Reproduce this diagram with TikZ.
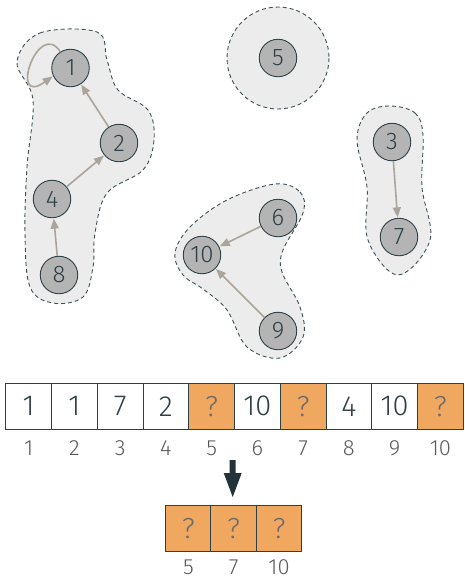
\documentclass[tikz,border=0pt]{standalone}
\usepackage{fontspec}
\setmainfont{Fira Sans Light}
\usetikzlibrary{arrows.meta,calc}
\definecolor{hullfill}{HTML}{ECECEC}
\definecolor{hulldraw}{HTML}{3D5056}
\definecolor{vfill}{HTML}{B4B4B4}
\definecolor{vdraw}{HTML}{2E3F45}
\definecolor{edgec}{HTML}{ABA49B}
\definecolor{orangec}{HTML}{F0A860}
\definecolor{qc}{HTML}{6B6B6B}
\definecolor{idxc}{HTML}{5A5A5A}
\definecolor{arrc}{HTML}{22343A}
\tikzset{
  hull/.style={fill=hullfill, draw=hulldraw, line width=0.9pt, dash pattern=on 4pt off 3pt},
  vert/.style={circle, minimum size=37.5pt, inner sep=0pt, fill=vfill, draw=vdraw, line width=0.9pt, text=vdraw, font=\fontsize{24}{24}\selectfont},
  edge/.style={draw=edgec, line width=1.6pt, -{Triangle[length=10pt,width=8pt]}, shorten >=0.5pt},
  cell/.style={rectangle, minimum width=45.75pt, minimum height=46pt, inner sep=0pt, draw=vdraw, line width=1pt, fill=white, text=vdraw, font=\fontsize{29}{29}\selectfont},
  qcell/.style={cell, fill=orangec, text=qc},
  idx/.style={text=idxc, font=\fontsize{22}{22}\selectfont, inner sep=0pt}
}
\begin{document}
\begin{tikzpicture}[x=1pt,y=-1pt]
\useasboundingbox (0,0) rectangle (464,579);
% hulls
\draw[hull] plot[smooth cycle, tension=0.6] coordinates {(17,62) (40,33) (97,32) (107,60) (118,90) (148,110) (154,140) (143,170) (107,193) (95,233) (93,267) (83,297) (53,303) (30,287) (25,233) (27,167) (33,100)};
\draw[hull] (278,58) circle[radius=51];
\draw[hull] plot[smooth cycle, tension=0.6] coordinates {(390,106) (415,113) (423,135) (422,187) (430,240) (398,275) (368,240) (367,187) (357,140) (367,113)};
\draw[hull] plot[smooth cycle, tension=0.6] coordinates {(275,184) (300,192) (303,213) (283,250) (282,272) (300,307) (303,337) (280,358) (247,347) (227,310) (203,289) (183,275) (175,253) (190,227) (227,200)};
% vertices
\node[vert] (n1) at (70.5,68) {1};
\node[vert] (n2) at (119,143) {2};
\node[vert] (n4) at (52,199) {4};
\node[vert] (n8) at (59,275) {8};
\node[vert] (n5) at (278,58) {5};
\node[vert] (n3) at (392,142) {3};
\node[vert] (n7) at (399,237) {7};
\node[vert] (n6) at (278,218) {6};
\node[vert] (n10) at (202,255) {10};
\node[vert] (n9) at (278,331) {9};
% edges
\draw[edge] (n2) -- (n1);
\draw[edge] (n4) -- (n2);
\draw[edge] (n8) -- (n4);
\draw[edge] (n3) -- (n7);
\draw[edge] (n6) -- (n10);
\draw[edge] (n9) -- (n10);
\draw[edge] (n1.122) .. controls (38,18) and (8,108) .. (n1.205);
% top array
\foreach \i/\v/\s in {1/1/cell,2/1/cell,3/7/cell,4/2/cell,5/?/qcell,6/10/cell,7/?/qcell,8/4/cell,9/10/cell,10/?/qcell}{
  \node[\s] (c\i) at ({5.75+45.75*(\i-0.5)},406.3) {\v};
  \node[idx] (i\i) at ({5.75+45.75*(\i-0.5)},448) {\i};
}
% arrow
\coordinate (a0) at (232.7,460);
\coordinate (a1) at (232.7,497);
\fill[arrc] ($(a0)+(-3,0)$) -- ($(a0)+(3,0)$) -- ($(a0)+(3,13)$) -- ($(a0)+(9,13)$) -- (a1) -- ($(a0)+(-9,13)$) -- ($(a0)+(-3,13)$) -- cycle;
% bottom array
\foreach \j/\k in {1/5,2/7,3/10}{
  \node[qcell] (b\j) at ({165.7+45.33*(\j-0.5)},528.3) {?};
  \node[idx] (j\j) at ({165.7+45.33*(\j-0.5)},567) {\k};
}
\end{tikzpicture}
\end{document}
